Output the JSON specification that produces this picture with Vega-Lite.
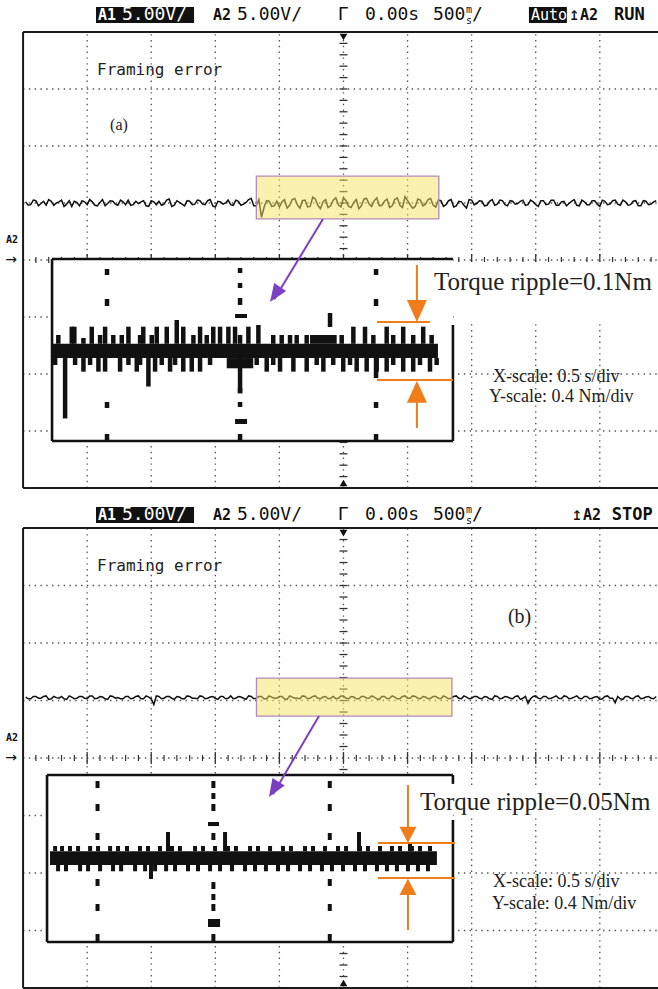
{
"$schema": "https://vega.github.io/schema/vega-lite/v6.json",
"padding": 0,
"spacing": 0,
"bounds": "flush",
"background": "white",
"config": {"view": {"stroke": null}},
"datasets": {
"grid": [
{"t":-2,"t2":-2,"y":-4,"y2":4},{"t":-1.5,"t2":-1.5,"y":-4,"y2":4},{"t":-1,"t2":-1,"y":-4,"y2":4},{"t":-0.5,"t2":-0.5,"y":-4,"y2":4},{"t":0,"t2":0,"y":-4,"y2":4},{"t":0.5,"t2":0.5,"y":-4,"y2":4},{"t":1,"t2":1,"y":-4,"y2":4},{"t":1.5,"t2":1.5,"y":-4,"y2":4},{"t":2,"t2":2,"y":-4,"y2":4},
{"t":-2.5,"t2":2.454,"y":-3,"y2":-3},{"t":-2.5,"t2":2.454,"y":-2,"y2":-2},{"t":-2.5,"t2":2.454,"y":-1,"y2":-1},{"t":-2.5,"t2":2.454,"y":0,"y2":0},{"t":-2.5,"t2":2.454,"y":1,"y2":1},{"t":-2.5,"t2":2.454,"y":2,"y2":2},{"t":-2.5,"t2":2.454,"y":3,"y2":3}],
"frame": [{"t":-2.5,"t2":2.454,"y":4,"y2":4},{"t":-2.5,"t2":-2.5,"y":-4,"y2":4},{"t":-2.5,"t2":2.454,"y":-4,"y2":-4}],
"mx": [{"t":-2.4,"y":0},{"t":-2.3,"y":0},{"t":-2.2,"y":0},{"t":-2.1,"y":0},{"t":-1.9,"y":0},{"t":-1.8,"y":0},{"t":-1.7,"y":0},{"t":-1.6,"y":0},{"t":-1.4,"y":0},{"t":-1.3,"y":0},{"t":-1.2,"y":0},{"t":-1.1,"y":0},{"t":-0.9,"y":0},{"t":-0.8,"y":0},{"t":-0.7,"y":0},{"t":-0.6,"y":0},{"t":-0.4,"y":0},{"t":-0.3,"y":0},{"t":-0.2,"y":0},{"t":-0.1,"y":0},{"t":0.1,"y":0},{"t":0.2,"y":0},{"t":0.3,"y":0},{"t":0.4,"y":0},{"t":0.6,"y":0},{"t":0.7,"y":0},{"t":0.8,"y":0},{"t":0.9,"y":0},{"t":1.1,"y":0},{"t":1.2,"y":0},{"t":1.3,"y":0},{"t":1.4,"y":0},{"t":1.6,"y":0},{"t":1.7,"y":0},{"t":1.8,"y":0},{"t":1.9,"y":0},{"t":2.1,"y":0},{"t":2.2,"y":0},{"t":2.3,"y":0},{"t":2.4,"y":0}],
"mxd": [{"t":-2,"y":0},{"t":-1.5,"y":0},{"t":-1,"y":0},{"t":-0.5,"y":0},{"t":0,"y":0},{"t":0.5,"y":0},{"t":1,"y":0},{"t":1.5,"y":0},{"t":2,"y":0}],
"my": [{"t":0,"y":-3.8},{"t":0,"y":-3.6},{"t":0,"y":-3.4},{"t":0,"y":-3.2},{"t":0,"y":-3},{"t":0,"y":-2.8},{"t":0,"y":-2.6},{"t":0,"y":-2.4},{"t":0,"y":-2.2},{"t":0,"y":-2},{"t":0,"y":-1.8},{"t":0,"y":-1.6},{"t":0,"y":-1.4},{"t":0,"y":-1.2},{"t":0,"y":-1},{"t":0,"y":-0.8},{"t":0,"y":-0.6},{"t":0,"y":-0.4},{"t":0,"y":-0.2},{"t":0,"y":0.2},{"t":0,"y":0.4},{"t":0,"y":0.6},{"t":0,"y":0.8},{"t":0,"y":1},{"t":0,"y":1.2},{"t":0,"y":1.4},{"t":0,"y":1.6},{"t":0,"y":1.8},{"t":0,"y":2},{"t":0,"y":2.2},{"t":0,"y":2.4},{"t":0,"y":2.6},{"t":0,"y":2.8},{"t":0,"y":3},{"t":0,"y":3.2},{"t":0,"y":3.4},{"t":0,"y":3.6},{"t":0,"y":3.8}],
"traceA": [
{"t":-2.48,"y":1.02},{"t":-2.46,"y":0.96},{"t":-2.44,"y":0.97},{"t":-2.42,"y":1.05},{"t":-2.40,"y":1.04},{"t":-2.38,"y":0.95},{"t":-2.36,"y":0.99},{"t":-2.34,"y":1.03},{"t":-2.32,"y":0.96},{"t":-2.30,"y":1.06},
{"t":-2.28,"y":1.03},{"t":-2.26,"y":0.96},{"t":-2.24,"y":1.00},{"t":-2.22,"y":1.02},{"t":-2.20,"y":1.05},{"t":-2.18,"y":0.94},{"t":-2.16,"y":0.98},{"t":-2.14,"y":1.04},{"t":-2.12,"y":0.94},{"t":-2.10,"y":1.03},
{"t":-2.08,"y":1.01},{"t":-2.06,"y":0.95},{"t":-2.04,"y":1.04},{"t":-2.02,"y":1.02},{"t":-2.00,"y":0.97},{"t":-1.98,"y":1.06},{"t":-1.96,"y":1.02},{"t":-1.94,"y":0.96},{"t":-1.92,"y":0.95},{"t":-1.90,"y":1.01},
{"t":-1.88,"y":1.06},{"t":-1.86,"y":0.95},{"t":-1.84,"y":0.99},{"t":-1.82,"y":1.04},{"t":-1.80,"y":1.03},{"t":-1.78,"y":0.98},{"t":-1.76,"y":0.96},{"t":-1.74,"y":1.05},{"t":-1.72,"y":1.02},{"t":-1.70,"y":0.97},
{"t":-1.68,"y":1.05},{"t":-1.66,"y":0.96},{"t":-1.64,"y":0.97},{"t":-1.62,"y":1.03},{"t":-1.60,"y":0.99},{"t":-1.58,"y":1.02},{"t":-1.56,"y":1.04},{"t":-1.54,"y":0.95},{"t":-1.52,"y":0.94},{"t":-1.50,"y":1.04},
{"t":-1.48,"y":1.02},{"t":-1.46,"y":0.97},{"t":-1.44,"y":1.03},{"t":-1.42,"y":0.96},{"t":-1.40,"y":0.98},{"t":-1.38,"y":1.05},{"t":-1.36,"y":1.07},{"t":-1.34,"y":0.94},{"t":-1.32,"y":0.96},{"t":-1.30,"y":1.04},
{"t":-1.28,"y":1.01},{"t":-1.26,"y":0.98},{"t":-1.24,"y":0.95},{"t":-1.22,"y":1.04},{"t":-1.20,"y":1.03},{"t":-1.18,"y":0.97},{"t":-1.16,"y":0.98},{"t":-1.14,"y":1.05},{"t":-1.12,"y":1.04},{"t":-1.10,"y":0.98},
{"t":-1.08,"y":0.97},{"t":-1.06,"y":1.04},{"t":-1.04,"y":1.06},{"t":-1.02,"y":0.95},{"t":-1.00,"y":0.93},{"t":-0.98,"y":1.03},{"t":-0.96,"y":1.02},{"t":-0.94,"y":0.98},{"t":-0.92,"y":1.00},{"t":-0.90,"y":1.05},
{"t":-0.88,"y":0.97},{"t":-0.86,"y":0.96},{"t":-0.84,"y":1.05},{"t":-0.82,"y":1.03},{"t":-0.80,"y":0.96},{"t":-0.78,"y":0.98},{"t":-0.76,"y":1.01},{"t":-0.74,"y":1.06},{"t":-0.72,"y":1.08},{"t":-0.70,"y":0.95},
{"t":-0.68,"y":0.95},{"t":-0.66,"y":1.06},{"t":-0.64,"y":0.75},{"t":-0.62,"y":0.92},{"t":-0.60,"y":1.04},{"t":-0.58,"y":1.03},{"t":-0.56,"y":0.94},{"t":-0.54,"y":0.95},{"t":-0.52,"y":1.03},{"t":-0.50,"y":0.93},
{"t":-0.48,"y":1.02},{"t":-0.46,"y":1.06},{"t":-0.44,"y":0.91},{"t":-0.42,"y":0.96},{"t":-0.40,"y":1.06},{"t":-0.38,"y":1.08},{"t":-0.36,"y":0.97},{"t":-0.34,"y":0.91},{"t":-0.32,"y":1.04},{"t":-0.30,"y":1.05},
{"t":-0.28,"y":0.93},{"t":-0.26,"y":0.94},{"t":-0.24,"y":1.10},{"t":-0.22,"y":1.07},{"t":-0.20,"y":0.96},{"t":-0.18,"y":0.90},{"t":-0.16,"y":1.02},{"t":-0.14,"y":1.06},{"t":-0.12,"y":0.92},{"t":-0.10,"y":0.95},
{"t":-0.08,"y":1.05},{"t":-0.06,"y":1.09},{"t":-0.04,"y":0.97},{"t":-0.02,"y":0.93},{"t":0.00,"y":1.09},{"t":0.02,"y":1.04},{"t":0.04,"y":0.94},{"t":0.06,"y":0.92},{"t":0.08,"y":1.01},{"t":0.10,"y":1.06},
{"t":0.12,"y":0.90},{"t":0.14,"y":0.95},{"t":0.16,"y":1.07},{"t":0.18,"y":1.08},{"t":0.20,"y":0.98},{"t":0.22,"y":0.94},{"t":0.24,"y":1.04},{"t":0.26,"y":1.09},{"t":0.28,"y":0.95},{"t":0.30,"y":0.96},
{"t":0.32,"y":1.03},{"t":0.34,"y":1.07},{"t":0.36,"y":0.92},{"t":0.38,"y":0.95},{"t":0.40,"y":1.06},{"t":0.42,"y":1.09},{"t":0.44,"y":0.96},{"t":0.46,"y":0.92},{"t":0.48,"y":1.11},{"t":0.50,"y":1.04},
{"t":0.52,"y":0.97},{"t":0.54,"y":0.91},{"t":0.56,"y":0.94},{"t":0.58,"y":1.07},{"t":0.60,"y":1.05},{"t":0.62,"y":0.95},{"t":0.64,"y":0.98},{"t":0.66,"y":1.06},{"t":0.68,"y":1.08},{"t":0.70,"y":0.96},
{"t":0.72,"y":0.93},{"t":0.74,"y":1.05},{"t":0.76,"y":1.04},{"t":0.78,"y":0.94},{"t":0.80,"y":0.97},{"t":0.82,"y":1.04},{"t":0.84,"y":1.06},{"t":0.86,"y":0.93},{"t":0.88,"y":0.95},{"t":0.90,"y":1.03},
{"t":0.92,"y":1.02},{"t":0.94,"y":0.96},{"t":0.96,"y":0.91},{"t":0.98,"y":1.06},{"t":1.00,"y":1.05},{"t":1.02,"y":0.97},{"t":1.04,"y":0.99},{"t":1.06,"y":1.04},{"t":1.08,"y":1.03},{"t":1.10,"y":0.95},
{"t":1.12,"y":0.96},{"t":1.14,"y":1.03},{"t":1.16,"y":1.06},{"t":1.18,"y":0.96},{"t":1.20,"y":0.98},{"t":1.22,"y":1.05},{"t":1.24,"y":1.04},{"t":1.26,"y":0.97},{"t":1.28,"y":0.95},{"t":1.30,"y":1.04},
{"t":1.32,"y":1.03},{"t":1.34,"y":0.98},{"t":1.36,"y":0.99},{"t":1.38,"y":1.03},{"t":1.40,"y":1.05},{"t":1.42,"y":0.96},{"t":1.44,"y":0.97},{"t":1.46,"y":1.05},{"t":1.48,"y":1.02},{"t":1.50,"y":0.97},
{"t":1.52,"y":0.94},{"t":1.54,"y":1.04},{"t":1.56,"y":1.04},{"t":1.58,"y":0.97},{"t":1.60,"y":0.98},{"t":1.62,"y":1.05},{"t":1.64,"y":1.05},{"t":1.66,"y":0.96},{"t":1.68,"y":0.96},{"t":1.70,"y":1.02},
{"t":1.72,"y":1.03},{"t":1.74,"y":0.95},{"t":1.76,"y":0.99},{"t":1.78,"y":1.03},{"t":1.80,"y":1.06},{"t":1.82,"y":0.96},{"t":1.84,"y":0.95},{"t":1.86,"y":1.05},{"t":1.88,"y":1.02},{"t":1.90,"y":0.97},
{"t":1.92,"y":0.97},{"t":1.94,"y":1.04},{"t":1.96,"y":1.04},{"t":1.98,"y":0.98},{"t":2.00,"y":0.94},{"t":2.02,"y":1.05},{"t":2.04,"y":1.03},{"t":2.06,"y":0.97},{"t":2.08,"y":0.98},{"t":2.10,"y":1.04},
{"t":2.12,"y":1.05},{"t":2.14,"y":0.98},{"t":2.16,"y":0.96},{"t":2.18,"y":1.05},{"t":2.20,"y":1.02},{"t":2.22,"y":0.96},{"t":2.24,"y":0.97},{"t":2.26,"y":1.03},{"t":2.28,"y":1.04},{"t":2.30,"y":0.95},
{"t":2.32,"y":0.95},{"t":2.34,"y":1.04},{"t":2.36,"y":1.03},{"t":2.38,"y":0.97},{"t":2.40,"y":0.98},{"t":2.42,"y":1.02},{"t":2.44,"y":1.04}],
"traceB": [
{"t":-2.48,"y":1.06},{"t":-2.46,"y":1.03},{"t":-2.44,"y":1.03},{"t":-2.42,"y":1.07},{"t":-2.40,"y":1.07},{"t":-2.38,"y":1.04},{"t":-2.36,"y":1.04},{"t":-2.34,"y":1.07},{"t":-2.32,"y":1.08},{"t":-2.30,"y":1.02},
{"t":-2.28,"y":1.03},{"t":-2.26,"y":1.07},{"t":-2.24,"y":1.05},{"t":-2.22,"y":1.04},{"t":-2.20,"y":1.07},{"t":-2.18,"y":1.03},{"t":-2.16,"y":1.02},{"t":-2.14,"y":1.08},{"t":-2.12,"y":1.06},{"t":-2.10,"y":1.03},
{"t":-2.08,"y":1.04},{"t":-2.06,"y":1.07},{"t":-2.04,"y":1.07},{"t":-2.02,"y":1.04},{"t":-2.00,"y":1.03},{"t":-1.98,"y":1.08},{"t":-1.96,"y":1.08},{"t":-1.94,"y":1.03},{"t":-1.92,"y":1.04},{"t":-1.90,"y":1.07},
{"t":-1.88,"y":1.06},{"t":-1.86,"y":1.03},{"t":-1.84,"y":1.02},{"t":-1.82,"y":1.08},{"t":-1.80,"y":1.07},{"t":-1.78,"y":1.04},{"t":-1.76,"y":1.05},{"t":-1.74,"y":1.03},{"t":-1.72,"y":1.03},{"t":-1.70,"y":1.07},
{"t":-1.68,"y":1.07},{"t":-1.66,"y":1.03},{"t":-1.64,"y":1.04},{"t":-1.62,"y":1.07},{"t":-1.60,"y":1.08},{"t":-1.58,"y":1.03},{"t":-1.56,"y":1.03},{"t":-1.54,"y":1.08},{"t":-1.52,"y":1.06},{"t":-1.50,"y":1.03},
{"t":-1.48,"y":0.93},{"t":-1.46,"y":1.08},{"t":-1.44,"y":1.07},{"t":-1.42,"y":1.03},{"t":-1.40,"y":1.04},{"t":-1.38,"y":1.07},{"t":-1.36,"y":1.07},{"t":-1.34,"y":1.04},{"t":-1.32,"y":1.02},{"t":-1.30,"y":1.07},
{"t":-1.28,"y":1.06},{"t":-1.26,"y":1.03},{"t":-1.24,"y":1.03},{"t":-1.22,"y":1.08},{"t":-1.20,"y":1.07},{"t":-1.18,"y":1.04},{"t":-1.16,"y":1.04},{"t":-1.14,"y":1.03},{"t":-1.12,"y":1.08},{"t":-1.10,"y":1.07},
{"t":-1.08,"y":1.03},{"t":-1.06,"y":1.04},{"t":-1.04,"y":1.06},{"t":-1.02,"y":1.07},{"t":-1.00,"y":1.04},{"t":-0.98,"y":1.02},{"t":-0.96,"y":1.07},{"t":-0.94,"y":1.07},{"t":-0.92,"y":1.03},{"t":-0.90,"y":1.04},
{"t":-0.88,"y":1.08},{"t":-0.86,"y":1.03},{"t":-0.84,"y":1.04},{"t":-0.82,"y":1.07},{"t":-0.80,"y":1.06},{"t":-0.78,"y":1.04},{"t":-0.76,"y":1.02},{"t":-0.74,"y":1.08},{"t":-0.72,"y":1.07},{"t":-0.70,"y":1.03},
{"t":-0.68,"y":1.04},{"t":-0.66,"y":1.07},{"t":-0.64,"y":1.07},{"t":-0.62,"y":1.03},{"t":-0.60,"y":1.03},{"t":-0.58,"y":1.08},{"t":-0.56,"y":1.06},{"t":-0.54,"y":1.04},{"t":-0.52,"y":1.04},{"t":-0.50,"y":1.07},
{"t":-0.48,"y":1.07},{"t":-0.46,"y":1.03},{"t":-0.44,"y":1.02},{"t":-0.42,"y":1.08},{"t":-0.40,"y":1.06},{"t":-0.38,"y":1.04},{"t":-0.36,"y":1.04},{"t":-0.34,"y":1.03},{"t":-0.32,"y":1.08},{"t":-0.30,"y":1.07},
{"t":-0.28,"y":1.03},{"t":-0.26,"y":1.04},{"t":-0.24,"y":1.07},{"t":-0.22,"y":1.08},{"t":-0.20,"y":1.04},{"t":-0.18,"y":1.03},{"t":-0.16,"y":1.06},{"t":-0.14,"y":1.07},{"t":-0.12,"y":1.03},{"t":-0.10,"y":1.04},
{"t":-0.08,"y":1.07},{"t":-0.06,"y":1.03},{"t":-0.04,"y":1.04},{"t":-0.02,"y":1.08},{"t":0.00,"y":1.08},{"t":0.02,"y":1.04},{"t":0.04,"y":1.03},{"t":0.06,"y":1.07},{"t":0.08,"y":1.06},{"t":0.10,"y":1.03},
{"t":0.12,"y":1.03},{"t":0.14,"y":1.07},{"t":0.16,"y":1.07},{"t":0.18,"y":1.04},{"t":0.20,"y":1.04},{"t":0.22,"y":1.08},{"t":0.24,"y":1.06},{"t":0.26,"y":1.03},{"t":0.28,"y":1.02},{"t":0.30,"y":1.07},
{"t":0.32,"y":1.07},{"t":0.34,"y":1.03},{"t":0.36,"y":1.04},{"t":0.38,"y":1.08},{"t":0.40,"y":1.06},{"t":0.42,"y":1.03},{"t":0.44,"y":1.03},{"t":0.46,"y":1.07},{"t":0.48,"y":1.08},{"t":0.50,"y":1.04},
{"t":0.52,"y":1.04},{"t":0.54,"y":1.08},{"t":0.56,"y":1.07},{"t":0.58,"y":1.04},{"t":0.60,"y":1.03},{"t":0.62,"y":1.07},{"t":0.64,"y":1.06},{"t":0.66,"y":1.03},{"t":0.68,"y":1.04},{"t":0.70,"y":1.07},
{"t":0.72,"y":1.07},{"t":0.74,"y":1.04},{"t":0.76,"y":1.03},{"t":0.78,"y":1.08},{"t":0.80,"y":1.06},{"t":0.82,"y":1.03},{"t":0.84,"y":1.04},{"t":0.86,"y":1.07},{"t":0.88,"y":1.08},{"t":0.90,"y":1.04},
{"t":0.92,"y":1.03},{"t":0.94,"y":1.08},{"t":0.96,"y":1.06},{"t":0.98,"y":1.03},{"t":1.00,"y":1.04},{"t":1.02,"y":1.07},{"t":1.04,"y":1.07},{"t":1.06,"y":1.04},{"t":1.08,"y":1.03},{"t":1.10,"y":1.07},
{"t":1.12,"y":1.06},{"t":1.14,"y":1.03},{"t":1.16,"y":1.02},{"t":1.18,"y":1.08},{"t":1.20,"y":1.07},{"t":1.22,"y":1.03},{"t":1.24,"y":1.04},{"t":1.26,"y":1.07},{"t":1.28,"y":1.06},{"t":1.30,"y":1.04},
{"t":1.32,"y":1.03},{"t":1.34,"y":1.07},{"t":1.36,"y":1.08},{"t":1.38,"y":1.02},{"t":1.40,"y":1.04},{"t":1.42,"y":1.07},{"t":1.44,"y":0.95},{"t":1.46,"y":1.03},{"t":1.48,"y":1.07},{"t":1.50,"y":1.08},
{"t":1.52,"y":1.04},{"t":1.54,"y":1.03},{"t":1.56,"y":1.07},{"t":1.58,"y":1.07},{"t":1.60,"y":1.03},{"t":1.62,"y":1.04},{"t":1.64,"y":1.06},{"t":1.66,"y":1.08},{"t":1.68,"y":1.04},{"t":1.70,"y":1.03},
{"t":1.72,"y":1.08},{"t":1.74,"y":1.07},{"t":1.76,"y":1.03},{"t":1.78,"y":1.04},{"t":1.80,"y":1.06},{"t":1.82,"y":1.08},{"t":1.84,"y":1.04},{"t":1.86,"y":1.03},{"t":1.88,"y":1.07},{"t":1.90,"y":1.07},
{"t":1.92,"y":1.03},{"t":1.94,"y":1.04},{"t":1.96,"y":1.06},{"t":1.98,"y":1.07},{"t":2.00,"y":1.02},{"t":2.02,"y":1.03},{"t":2.04,"y":1.07},{"t":2.06,"y":1.08},{"t":2.08,"y":1.04},{"t":2.10,"y":1.04},
{"t":2.12,"y":0.96},{"t":2.14,"y":1.07},{"t":2.16,"y":1.03},{"t":2.18,"y":1.02},{"t":2.20,"y":1.07},{"t":2.22,"y":1.07},{"t":2.24,"y":1.04},{"t":2.26,"y":1.03},{"t":2.28,"y":1.07},{"t":2.30,"y":1.08},
{"t":2.32,"y":1.03},{"t":2.34,"y":1.04},{"t":2.36,"y":1.06},{"t":2.38,"y":1.07},{"t":2.40,"y":1.04},{"t":2.42,"y":1.03},{"t":2.44,"y":1.07}],
"insetAv": [
{"t":-2.225,"y":-1.47,"y2":-1.316},{"t":-2.12,"y":-1.47,"y2":-1.17},{"t":-2.1,"y":-1.47,"y2":-1.17},{"t":-2.029,"y":-1.47,"y2":-1.368},{"t":-1.964,"y":-1.47,"y2":-1.17},{"t":-1.899,"y":-1.47,"y2":-1.316},{"t":-1.86,"y":-1.47,"y2":-1.17},{"t":-1.796,"y":-1.47,"y2":-1.316},{"t":-1.73,"y":-1.47,"y2":-1.316},{"t":-1.678,"y":-1.47,"y2":-1.17},{"t":-1.587,"y":-1.47,"y2":-1.316},{"t":-1.562,"y":-1.47,"y2":-1.17},{"t":-1.496,"y":-1.47,"y2":-1.316},{"t":-1.457,"y":-1.47,"y2":-1.17},{"t":-1.379,"y":-1.47,"y2":-1.17},{"t":-1.301,"y":-1.47,"y2":-1.053},{"t":-1.25,"y":-1.47,"y2":-1.17},{"t":-1.171,"y":-1.47,"y2":-1.316},{"t":-1.119,"y":-1.47,"y2":-1.17},{"t":-1.067,"y":-1.47,"y2":-1.316},{"t":-1.016,"y":-1.47,"y2":-1.17},{"t":-0.963,"y":-1.47,"y2":-1.17},{"t":-0.898,"y":-1.47,"y2":-1.17},{"t":-0.846,"y":-1.47,"y2":-1.17},{"t":-0.807,"y":-1.47,"y2":-1.316},{"t":-0.742,"y":-1.47,"y2":-1.17},{"t":-0.664,"y":-1.47,"y2":-1.14},{"t":-0.548,"y":-1.47,"y2":-1.316},{"t":-0.482,"y":-1.47,"y2":-1.316},{"t":-0.417,"y":-1.47,"y2":-1.316},{"t":-0.365,"y":-1.47,"y2":-1.316},{"t":-0.287,"y":-1.47,"y2":-1.316},{"t":-0.014,"y":-1.47,"y2":-1.316},{"t":0.077,"y":-1.47,"y2":-1.17},{"t":0.168,"y":-1.47,"y2":-1.17},{"t":0.233,"y":-1.47,"y2":-1.316},{"t":0.337,"y":-1.47,"y2":-1.17},{"t":0.388,"y":-1.47,"y2":-1.316},{"t":0.466,"y":-1.47,"y2":-1.17},{"t":0.544,"y":-1.47,"y2":-1.316},{"t":0.622,"y":-1.47,"y2":-1.17},{"t":0.688,"y":-1.47,"y2":-1.316},{"t":-0.105,"y":-0.93,"y2":-1.175},
{"t":-2.25,"y":-1.72,"y2":-1.842},{"t":-2.172,"y":-1.72,"y2":-2.78},{"t":-2.094,"y":-1.72,"y2":-1.842},{"t":-2.029,"y":-1.72,"y2":-1.959},{"t":-1.977,"y":-1.72,"y2":-1.842},{"t":-1.912,"y":-1.72,"y2":-1.959},{"t":-1.86,"y":-1.72,"y2":-1.959},{"t":-1.743,"y":-1.72,"y2":-1.959},{"t":-1.678,"y":-1.72,"y2":-1.842},{"t":-1.613,"y":-1.72,"y2":-1.959},{"t":-1.587,"y":-1.72,"y2":-1.842},{"t":-1.522,"y":-1.72,"y2":-2.22},{"t":-1.47,"y":-1.72,"y2":-1.959},{"t":-1.418,"y":-1.72,"y2":-1.842},{"t":-1.353,"y":-1.72,"y2":-1.959},{"t":-1.314,"y":-1.72,"y2":-1.842},{"t":-1.25,"y":-1.72,"y2":-1.959},{"t":-1.184,"y":-1.72,"y2":-1.959},{"t":-1.119,"y":-1.72,"y2":-1.959},{"t":-1.041,"y":-1.72,"y2":-1.842},{"t":-0.807,"y":-1.72,"y2":-2.34},{"t":-0.677,"y":-1.72,"y2":-1.842},{"t":-0.599,"y":-1.72,"y2":-1.959},{"t":-0.548,"y":-1.72,"y2":-1.842},{"t":-0.495,"y":-1.72,"y2":-1.959},{"t":-0.391,"y":-1.72,"y2":-1.959},{"t":-0.287,"y":-1.72,"y2":-1.959},{"t":-0.209,"y":-1.72,"y2":-1.842},{"t":-0.157,"y":-1.72,"y2":-1.959},{"t":-0.08,"y":-1.72,"y2":-1.842},{"t":-0.002,"y":-1.72,"y2":-1.959},{"t":0.051,"y":-1.72,"y2":-1.842},{"t":0.103,"y":-1.72,"y2":-1.959},{"t":0.181,"y":-1.72,"y2":-1.959},{"t":0.259,"y":-1.72,"y2":-1.959},{"t":0.337,"y":-1.72,"y2":-1.959},{"t":0.388,"y":-1.72,"y2":-1.842},{"t":0.466,"y":-1.72,"y2":-1.959},{"t":0.544,"y":-1.72,"y2":-1.959},{"t":0.597,"y":-1.72,"y2":-1.842},{"t":0.675,"y":-1.72,"y2":-1.959},{"t":0.727,"y":-1.72,"y2":-1.842},
{"t":-1.845,"y":-0.158,"y2":-0.263},{"t":-1.845,"y":-0.684,"y2":-0.807},{"t":-1.845,"y":-2.491,"y2":-2.596},{"t":-1.845,"y":-3.053,"y2":-3.175},
{"t":-0.807,"y":-0.14,"y2":-0.228},{"t":-0.807,"y":-0.404,"y2":-0.491},{"t":-0.807,"y":-0.667,"y2":-0.789},{"t":-0.807,"y":-2.246,"y2":-2.333},{"t":-0.807,"y":-2.491,"y2":-2.579},{"t":-0.807,"y":-3.053,"y2":-3.175},
{"t":0.254,"y":-0.158,"y2":-0.263},{"t":0.254,"y":-0.684,"y2":-0.807},{"t":0.254,"y":-1.72,"y2":-2.07},{"t":0.254,"y":-2.491,"y2":-2.596},{"t":0.254,"y":-3.053,"y2":-3.175}],
"insetBv": [
{"t":-2.25,"y":-1.62,"y2":-1.53},{"t":-2.196,"y":-1.62,"y2":-1.53},{"t":-2.134,"y":-1.62,"y2":-1.53},{"t":-2.071,"y":-1.62,"y2":-1.53},{"t":-1.977,"y":-1.62,"y2":-1.53},{"t":-1.915,"y":-1.62,"y2":-1.53},{"t":-1.821,"y":-1.62,"y2":-1.53},{"t":-1.759,"y":-1.62,"y2":-1.53},{"t":-1.689,"y":-1.62,"y2":-1.53},{"t":-1.588,"y":-1.62,"y2":-1.53},{"t":-1.525,"y":-1.62,"y2":-1.53},{"t":-1.432,"y":-1.62,"y2":-1.53},{"t":-1.338,"y":-1.62,"y2":-1.53},{"t":-1.276,"y":-1.62,"y2":-1.53},{"t":-1.158,"y":-1.62,"y2":-1.53},{"t":-1.096,"y":-1.62,"y2":-1.53},{"t":-1.002,"y":-1.62,"y2":-1.53},{"t":-0.901,"y":-1.62,"y2":-1.53},{"t":-0.839,"y":-1.62,"y2":-1.53},{"t":-0.729,"y":-1.62,"y2":-1.53},{"t":-0.667,"y":-1.62,"y2":-1.53},{"t":-0.573,"y":-1.62,"y2":-1.53},{"t":-0.472,"y":-1.62,"y2":-1.53},{"t":-0.41,"y":-1.62,"y2":-1.53},{"t":-0.3,"y":-1.62,"y2":-1.53},{"t":-0.238,"y":-1.62,"y2":-1.53},{"t":-0.144,"y":-1.62,"y2":-1.53},{"t":-0.043,"y":-1.62,"y2":-1.53},{"t":0.02,"y":-1.62,"y2":-1.53},{"t":0.129,"y":-1.62,"y2":-1.53},{"t":0.191,"y":-1.62,"y2":-1.53},{"t":0.285,"y":-1.62,"y2":-1.53},{"t":0.378,"y":-1.62,"y2":-1.53},{"t":0.441,"y":-1.62,"y2":-1.53},{"t":0.534,"y":-1.62,"y2":-1.53},{"t":0.597,"y":-1.62,"y2":-1.53},{"t":0.675,"y":-1.62,"y2":-1.53},
{"t":-2.227,"y":-1.86,"y2":-1.97},{"t":-2.165,"y":-1.86,"y2":-1.97},{"t":-2.055,"y":-1.86,"y2":-1.97},{"t":-1.993,"y":-1.86,"y2":-1.97},{"t":-1.899,"y":-1.86,"y2":-1.97},{"t":-1.798,"y":-1.86,"y2":-1.97},{"t":-1.735,"y":-1.86,"y2":-1.97},{"t":-1.626,"y":-1.86,"y2":-1.97},{"t":-1.548,"y":-1.86,"y2":-1.97},{"t":-1.47,"y":-1.86,"y2":-1.97},{"t":-1.384,"y":-1.86,"y2":-1.97},{"t":-1.314,"y":-1.86,"y2":-1.97},{"t":-1.213,"y":-1.86,"y2":-1.97},{"t":-1.135,"y":-1.86,"y2":-1.97},{"t":-1.041,"y":-1.86,"y2":-1.97},{"t":-0.963,"y":-1.86,"y2":-1.97},{"t":-0.87,"y":-1.86,"y2":-1.97},{"t":-0.768,"y":-1.86,"y2":-1.97},{"t":-0.69,"y":-1.86,"y2":-1.97},{"t":-0.605,"y":-1.86,"y2":-1.97},{"t":-0.511,"y":-1.86,"y2":-1.97},{"t":-0.433,"y":-1.86,"y2":-1.97},{"t":-0.339,"y":-1.86,"y2":-1.97},{"t":-0.261,"y":-1.86,"y2":-1.97},{"t":-0.168,"y":-1.86,"y2":-1.97},{"t":-0.09,"y":-1.86,"y2":-1.97},{"t":-0.004,"y":-1.86,"y2":-1.97},{"t":0.09,"y":-1.86,"y2":-1.97},{"t":0.168,"y":-1.86,"y2":-1.97},{"t":0.261,"y":-1.86,"y2":-1.97},{"t":0.339,"y":-1.86,"y2":-1.97},{"t":0.417,"y":-1.86,"y2":-1.97},{"t":0.503,"y":-1.86,"y2":-1.97},{"t":0.581,"y":-1.86,"y2":-1.97},{"t":0.659,"y":-1.86,"y2":-1.97},
{"t":-1.369,"y":-1.62,"y2":-1.287},{"t":-0.924,"y":-1.62,"y2":-1.287},{"t":0.121,"y":-1.62,"y2":-1.287},{"t":0.519,"y":-1.62,"y2":-1.46},{"t":-1.502,"y":-1.86,"y2":-2.104},
{"t":-1.919,"y":-0.4,"y2":-0.522},{"t":-1.919,"y":-0.8,"y2":-0.922},{"t":-1.919,"y":-1.304,"y2":-1.426},{"t":-1.919,"y":-2.104,"y2":-2.226},{"t":-1.919,"y":-2.539,"y2":-2.661},{"t":-1.919,"y":-3.061,"y2":-3.183},
{"t":-0.107,"y":-0.4,"y2":-0.522},{"t":-0.107,"y":-0.8,"y2":-0.922},{"t":-0.107,"y":-1.304,"y2":-1.426},{"t":-0.107,"y":-2.104,"y2":-2.226},{"t":-0.107,"y":-2.539,"y2":-2.661},{"t":-0.107,"y":-3.061,"y2":-3.183},
{"t":-1.015,"y":-0.4,"y2":-0.522},{"t":-1.015,"y":-0.609,"y2":-0.713},{"t":-1.015,"y":-0.8,"y2":-0.922},{"t":-1.015,"y":-1.304,"y2":-1.426},{"t":-1.015,"y":-2.157,"y2":-2.278},{"t":-1.015,"y":-2.365,"y2":-2.47},{"t":-1.015,"y":-2.539,"y2":-2.661},{"t":-1.015,"y":-3.061,"y2":-3.183}]
},
"vconcat": [
{
"width": 658, "height": 488,
"encoding": {
 "x": {"field": "t", "type": "quantitative", "scale": {"domain": [-2.68, 2.454], "nice": false, "zero": false}, "axis": null},
 "y": {"field": "y", "type": "quantitative", "scale": {"domain": [-4, 4.561], "nice": false, "zero": false}, "axis": null}
},
"layer": [
 {"data": {"name": "grid"}, "mark": {"type": "rule", "color": "#505050", "strokeWidth": 1.3, "strokeDash": [1.4, 4.4]}, "encoding": {"x2": {"field": "t2"}, "y2": {"field": "y2"}}},
 {"data": {"name": "frame"}, "mark": {"type": "rule", "color": "#1a1a1a", "strokeWidth": 2}, "encoding": {"x2": {"field": "t2"}, "y2": {"field": "y2"}}},
 {"data": {"name": "mx"}, "mark": {"type": "tick", "orient": "vertical", "size": 6, "thickness": 1.2, "color": "#333", "opacity": 1}},
 {"data": {"name": "mxd"}, "mark": {"type": "tick", "orient": "vertical", "size": 12, "thickness": 1.3, "color": "#333", "opacity": 1}},
 {"data": {"name": "my"}, "mark": {"type": "tick", "orient": "horizontal", "size": 8, "thickness": 1.3, "color": "#333", "opacity": 1}},
 {"data": {"values": [{"t": 0, "y": 3.912}]}, "mark": {"type": "point", "shape": "triangle-down", "size": 60, "filled": true, "color": "#111", "opacity": 1}},
 {"data": {"values": [{"t": 0, "y": -3.912}]}, "mark": {"type": "point", "shape": "triangle-up", "size": 60, "filled": true, "color": "#111", "opacity": 1}},
 {"data": {"name": "traceA"}, "mark": {"type": "line", "color": "#111", "strokeWidth": 1.5}, "encoding": {}},
 {"data": {"values": [{"t": -0.68, "t2": 0.744, "y": 1.47, "y2": 0.72}]}, "mark": {"type": "rect", "fill": "#f5e35e", "fillOpacity": 0.5, "stroke": "#b48ab9", "strokeWidth": 1.3}, "encoding": {"x2": {"field": "t2"}, "y2": {"field": "y2"}}},
 {"data": {"values": [{"t": -2.274, "t2": 0.854, "y": 0.018, "y2": -3.175}]}, "mark": {"type": "rect", "color": "white"}, "encoding": {"x2": {"field": "t2"}, "y2": {"field": "y2"}}},
 {"data": {"values": [{"t": 0.87, "t2": 2.46, "y": -0.035, "y2": -1.09}]}, "mark": {"type": "rect", "color": "white"}, "encoding": {"x2": {"field": "t2"}, "y2": {"field": "y2"}}},
 {"data": {"values": [{"t": -2.274, "t2": 0.854, "y": 0.018, "y2": 0.018}, {"t": -2.274, "t2": -2.274, "y": 0.018, "y2": -3.175}, {"t": -2.274, "t2": 0.854, "y": -3.175, "y2": -3.175}, {"t": 0.854, "t2": 0.854, "y": -1.14, "y2": -3.175}]}, "mark": {"type": "rule", "color": "#111", "strokeWidth": 2.6}, "encoding": {"x2": {"field": "t2"}, "y2": {"field": "y2"}}},
 {"data": {"values": [{"t": -2.274, "t2": 0.737, "y": -1.47, "y2": -1.72}, {"t": -0.261, "t2": -0.053, "y": -1.316, "y2": -1.47}, {"t": -0.911, "t2": -0.704, "y": -1.72, "y2": -1.9}, {"t": -0.846, "t2": -0.753, "y": -0.947, "y2": -1.018}, {"t": -0.846, "t2": -0.753, "y": -2.789, "y2": -2.877}]}, "mark": {"type": "rect", "color": "#111"}, "encoding": {"x2": {"field": "t2"}, "y2": {"field": "y2"}}},
 {"data": {"name": "insetAv"}, "mark": {"type": "rule", "color": "#111", "strokeWidth": 4.5}, "encoding": {"y2": {"field": "y2"}}},
 {"data": {"values": [{"t": -0.16, "t2": -0.54, "y": 0.72, "y2": -0.69}]}, "mark": {"type": "rule", "color": "#7b3fc4", "strokeWidth": 2}, "encoding": {"x2": {"field": "t2"}, "y2": {"field": "y2"}}},
 {"data": {"values": [{"t": -0.573, "y": -0.737}]}, "mark": {"type": "point", "shape": "M0,0L-0.8,2L0.8,2Z", "size": 324, "angle": 214, "filled": true, "color": "#7b3fc4", "opacity": 1}},
 {"data": {"values": [{"t": 0.573, "t2": 0.573, "y": -0.088, "y2": -1.0}, {"t": 0.261, "t2": 0.675, "y": -1.088, "y2": -1.088}, {"t": 0.261, "t2": 0.854, "y": -2.105, "y2": -2.105}, {"t": 0.573, "t2": 0.573, "y": -2.25, "y2": -2.947}]}, "mark": {"type": "rule", "color": "#f07d1a", "strokeWidth": 2}, "encoding": {"x2": {"field": "t2"}, "y2": {"field": "y2"}}},
 {"data": {"values": [{"t": 0.573, "y": -1.088}]}, "mark": {"type": "point", "shape": "M0,0L-1,-2.2L1,-2.2Z", "size": 400, "filled": true, "color": "#f07d1a", "opacity": 1}},
 {"data": {"values": [{"t": 0.573, "y": -2.12}]}, "mark": {"type": "point", "shape": "M0,0L-1,2.2L1,2.2Z", "size": 400, "filled": true, "color": "#f07d1a", "opacity": 1}},
 {"data": {"values": [{"t": -1.931, "t2": -1.166, "y": 4.439, "y2": 4.158}, {"t": 1.447, "t2": 1.743, "y": 4.439, "y2": 4.158}]}, "mark": {"type": "rect", "color": "#111"}, "encoding": {"x2": {"field": "t2"}, "y2": {"field": "y2"}}},
 {"data": {"values": [{"t": -1.915, "y": 4.3, "s": "A1"}]}, "mark": {"type": "text", "align": "left", "baseline": "middle", "font": "DejaVu Sans Mono", "fontWeight": "bold", "fontSize": 15, "color": "white"}, "encoding": {"text": {"field": "s"}}},
 {"data": {"values": [{"t": -1.728, "y": 4.3, "s": "5.00V/"}]}, "mark": {"type": "text", "align": "left", "baseline": "middle", "font": "DejaVu Sans Mono", "fontSize": 18, "color": "white"}, "encoding": {"text": {"field": "s"}}},
 {"data": {"values": [{"t": 1.463, "y": 4.3, "s": "Auto"}]}, "mark": {"type": "text", "align": "left", "baseline": "middle", "font": "DejaVu Sans Mono", "fontSize": 15, "color": "white"}, "encoding": {"text": {"field": "s"}}},
 {"data": {"values": [{"t": -0.831, "y": 4.3, "s": "5.00V/"}, {"t": -0.045, "y": 4.3, "s": "Γ"}, {"t": 0.168, "y": 4.3, "s": "0.00s"}, {"t": 0.698, "y": 4.3, "s": "500"}, {"t": 1.002, "y": 4.3, "s": "/"}, {"t": 1.759, "y": 4.3, "s": "↥"}]}, "mark": {"type": "text", "align": "left", "baseline": "middle", "font": "DejaVu Sans Mono", "fontSize": 18, "color": "#111"}, "encoding": {"text": {"field": "s"}}},
 {"data": {"values": [{"t": -1.018, "y": 4.3, "s": "A2"}, {"t": 1.845, "y": 4.3, "s": "A2"}]}, "mark": {"type": "text", "align": "left", "baseline": "middle", "font": "DejaVu Sans Mono", "fontWeight": "bold", "fontSize": 15, "color": "#111"}, "encoding": {"text": {"field": "s"}}},
 {"data": {"values": [{"t": 2.11, "y": 4.3, "s": "RUN"}]}, "mark": {"type": "text", "align": "left", "baseline": "middle", "font": "DejaVu Sans Mono", "fontWeight": "bold", "fontSize": 17, "color": "#111"}, "encoding": {"text": {"field": "s"}}},
 {"data": {"values": [{"t": 0.955, "y": 4.386, "s": "m"}, {"t": 0.955, "y": 4.193, "s": "s"}]}, "mark": {"type": "text", "align": "left", "baseline": "middle", "font": "DejaVu Sans Mono", "fontSize": 10, "color": "#111"}, "encoding": {"text": {"field": "s"}}},
 {"data": {"values": [{"t": -2.586, "y": 0.35, "s": "A2"}]}, "mark": {"type": "text", "align": "center", "baseline": "middle", "font": "DejaVu Sans Mono", "fontWeight": "bold", "fontSize": 10, "color": "#111"}, "encoding": {"text": {"field": "s"}}},
 {"data": {"values": [{"t": -2.64, "y": 0.0, "s": "→"}]}, "mark": {"type": "text", "align": "left", "baseline": "middle", "font": "DejaVu Sans", "fontSize": 14, "color": "#111"}, "encoding": {"text": {"field": "s"}}},
 {"data": {"values": [{"t": -1.923, "y": 3.333, "s": "Framing error"}]}, "mark": {"type": "text", "align": "left", "baseline": "middle", "font": "DejaVu Sans Mono", "fontSize": 16, "color": "#222"}, "encoding": {"text": {"field": "s"}}},
 {"data": {"values": [{"t": -1.821, "y": 2.368, "s": "(a)"}]}, "mark": {"type": "text", "align": "left", "baseline": "middle", "font": "Liberation Serif", "fontSize": 16, "color": "#222"}, "encoding": {"text": {"field": "s"}}},
 {"data": {"values": [{"t": 0.706, "y": -0.386, "s": "Torque ripple=0.1Nm"}]}, "mark": {"type": "text", "align": "left", "baseline": "middle", "font": "Liberation Serif", "fontSize": 25, "color": "#222"}, "encoding": {"text": {"field": "s"}}},
 {"data": {"values": [{"t": 1.166, "y": -2.053, "s": "X-scale: 0.5 s/div"}, {"t": 1.135, "y": -2.404, "s": "Y-scale: 0.4 Nm/div"}]}, "mark": {"type": "text", "align": "left", "baseline": "middle", "font": "Liberation Serif", "fontSize": 18, "color": "#222"}, "encoding": {"text": {"field": "s"}}}
]
},
{
"width": 658, "height": 501,
"encoding": {
 "x": {"field": "t", "type": "quantitative", "scale": {"domain": [-2.68, 2.454], "nice": false, "zero": false}, "axis": null},
 "y": {"field": "y", "type": "quantitative", "scale": {"domain": [-4.017, 4.696], "nice": false, "zero": false}, "axis": null}
},
"layer": [
 {"data": {"name": "grid"}, "mark": {"type": "rule", "color": "#505050", "strokeWidth": 1.3, "strokeDash": [1.4, 4.4]}, "encoding": {"x2": {"field": "t2"}, "y2": {"field": "y2"}}},
 {"data": {"name": "frame"}, "mark": {"type": "rule", "color": "#1a1a1a", "strokeWidth": 2}, "encoding": {"x2": {"field": "t2"}, "y2": {"field": "y2"}}},
 {"data": {"name": "mx"}, "mark": {"type": "tick", "orient": "vertical", "size": 6, "thickness": 1.2, "color": "#333", "opacity": 1}},
 {"data": {"name": "mxd"}, "mark": {"type": "tick", "orient": "vertical", "size": 12, "thickness": 1.3, "color": "#333", "opacity": 1}},
 {"data": {"name": "my"}, "mark": {"type": "tick", "orient": "horizontal", "size": 8, "thickness": 1.3, "color": "#333", "opacity": 1}},
 {"data": {"values": [{"t": 0, "y": 3.913}]}, "mark": {"type": "point", "shape": "triangle-down", "size": 60, "filled": true, "color": "#111", "opacity": 1}},
 {"data": {"values": [{"t": 0, "y": -3.913}]}, "mark": {"type": "point", "shape": "triangle-up", "size": 60, "filled": true, "color": "#111", "opacity": 1}},
 {"data": {"name": "traceB"}, "mark": {"type": "line", "color": "#111", "strokeWidth": 1.5}, "encoding": {}},
 {"data": {"values": [{"t": -0.679, "t2": 0.846, "y": 1.391, "y2": 0.73}]}, "mark": {"type": "rect", "fill": "#f5e35e", "fillOpacity": 0.5, "stroke": "#b48ab9", "strokeWidth": 1.3}, "encoding": {"x2": {"field": "t2"}, "y2": {"field": "y2"}}},
 {"data": {"values": [{"t": -2.313, "t2": 0.854, "y": -0.296, "y2": -3.2}]}, "mark": {"type": "rect", "color": "white"}, "encoding": {"x2": {"field": "t2"}, "y2": {"field": "y2"}}},
 {"data": {"values": [{"t": 0.87, "t2": 2.46, "y": -0.47, "y2": -1.043}]}, "mark": {"type": "rect", "color": "white"}, "encoding": {"x2": {"field": "t2"}, "y2": {"field": "y2"}}},
 {"data": {"values": [{"t": -2.313, "t2": 0.854, "y": -0.296, "y2": -0.296}, {"t": -2.313, "t2": -2.313, "y": -0.296, "y2": -3.2}, {"t": -2.313, "t2": 0.854, "y": -3.2, "y2": -3.2}, {"t": 0.854, "t2": 0.854, "y": -0.296, "y2": -0.45}, {"t": 0.854, "t2": 0.854, "y": -1.078, "y2": -3.2}]}, "mark": {"type": "rule", "color": "#111", "strokeWidth": 2.6}, "encoding": {"x2": {"field": "t2"}, "y2": {"field": "y2"}}},
 {"data": {"values": [{"t": -2.29, "t2": 0.729, "y": -1.62, "y2": -1.86}, {"t": -1.057, "t2": -0.971, "y": -1.113, "y2": -1.183}, {"t": -1.057, "t2": -0.963, "y": -2.8, "y2": -2.939}]}, "mark": {"type": "rect", "color": "#111"}, "encoding": {"x2": {"field": "t2"}, "y2": {"field": "y2"}}},
 {"data": {"name": "insetBv"}, "mark": {"type": "rule", "color": "#111", "strokeWidth": 4}, "encoding": {"y2": {"field": "y2"}}},
 {"data": {"values": [{"t": -0.191, "t2": -0.55, "y": 0.73, "y2": -0.63}]}, "mark": {"type": "rule", "color": "#7b3fc4", "strokeWidth": 2}, "encoding": {"x2": {"field": "t2"}, "y2": {"field": "y2"}}},
 {"data": {"values": [{"t": -0.581, "y": -0.678}]}, "mark": {"type": "point", "shape": "M0,0L-0.8,2L0.8,2Z", "size": 324, "angle": 212, "filled": true, "color": "#7b3fc4", "opacity": 1}},
 {"data": {"values": [{"t": 0.503, "t2": 0.503, "y": -0.47, "y2": -1.4}, {"t": 0.269, "t2": 0.87, "y": -1.478, "y2": -1.478}, {"t": 0.269, "t2": 0.87, "y": -2.087, "y2": -2.087}, {"t": 0.503, "t2": 0.503, "y": -2.2, "y2": -2.991}]}, "mark": {"type": "rule", "color": "#f07d1a", "strokeWidth": 2}, "encoding": {"x2": {"field": "t2"}, "y2": {"field": "y2"}}},
 {"data": {"values": [{"t": 0.503, "y": -1.478}]}, "mark": {"type": "point", "shape": "M0,0L-1,-1.9L1,-1.9Z", "size": 289, "filled": true, "color": "#f07d1a", "opacity": 1}},
 {"data": {"values": [{"t": 0.503, "y": -2.1}]}, "mark": {"type": "point", "shape": "M0,0L-1,1.9L1,1.9Z", "size": 289, "filled": true, "color": "#f07d1a", "opacity": 1}},
 {"data": {"values": [{"t": -1.931, "t2": -1.166, "y": 4.365, "y2": 4.087}]}, "mark": {"type": "rect", "color": "#111"}, "encoding": {"x2": {"field": "t2"}, "y2": {"field": "y2"}}},
 {"data": {"values": [{"t": -1.915, "y": 4.226, "s": "A1"}]}, "mark": {"type": "text", "align": "left", "baseline": "middle", "font": "DejaVu Sans Mono", "fontWeight": "bold", "fontSize": 15, "color": "white"}, "encoding": {"text": {"field": "s"}}},
 {"data": {"values": [{"t": -1.728, "y": 4.226, "s": "5.00V/"}]}, "mark": {"type": "text", "align": "left", "baseline": "middle", "font": "DejaVu Sans Mono", "fontSize": 18, "color": "white"}, "encoding": {"text": {"field": "s"}}},
 {"data": {"values": [{"t": -0.831, "y": 4.226, "s": "5.00V/"}, {"t": -0.045, "y": 4.226, "s": "Γ"}, {"t": 0.168, "y": 4.226, "s": "0.00s"}, {"t": 0.698, "y": 4.226, "s": "500"}, {"t": 1.002, "y": 4.226, "s": "/"}, {"t": 1.782, "y": 4.226, "s": "↥"}]}, "mark": {"type": "text", "align": "left", "baseline": "middle", "font": "DejaVu Sans Mono", "fontSize": 18, "color": "#111"}, "encoding": {"text": {"field": "s"}}},
 {"data": {"values": [{"t": -1.018, "y": 4.226, "s": "A2"}, {"t": 1.868, "y": 4.226, "s": "A2"}]}, "mark": {"type": "text", "align": "left", "baseline": "middle", "font": "DejaVu Sans Mono", "fontWeight": "bold", "fontSize": 15, "color": "#111"}, "encoding": {"text": {"field": "s"}}},
 {"data": {"values": [{"t": 2.094, "y": 4.226, "s": "STOP"}]}, "mark": {"type": "text", "align": "left", "baseline": "middle", "font": "DejaVu Sans Mono", "fontWeight": "bold", "fontSize": 17, "color": "#111"}, "encoding": {"text": {"field": "s"}}},
 {"data": {"values": [{"t": 0.955, "y": 4.313, "s": "m"}, {"t": 0.955, "y": 4.122, "s": "s"}]}, "mark": {"type": "text", "align": "left", "baseline": "middle", "font": "DejaVu Sans Mono", "fontSize": 10, "color": "#111"}, "encoding": {"text": {"field": "s"}}},
 {"data": {"values": [{"t": -2.586, "y": 0.35, "s": "A2"}]}, "mark": {"type": "text", "align": "center", "baseline": "middle", "font": "DejaVu Sans Mono", "fontWeight": "bold", "fontSize": 10, "color": "#111"}, "encoding": {"text": {"field": "s"}}},
 {"data": {"values": [{"t": -2.64, "y": 0.0, "s": "→"}]}, "mark": {"type": "text", "align": "left", "baseline": "middle", "font": "DejaVu Sans", "fontSize": 14, "color": "#111"}, "encoding": {"text": {"field": "s"}}},
 {"data": {"values": [{"t": -1.923, "y": 3.339, "s": "Framing error"}]}, "mark": {"type": "text", "align": "left", "baseline": "middle", "font": "DejaVu Sans Mono", "fontSize": 16, "color": "#222"}, "encoding": {"text": {"field": "s"}}},
 {"data": {"values": [{"t": 1.283, "y": 2.452, "s": "(b)"}]}, "mark": {"type": "text", "align": "left", "baseline": "middle", "font": "Liberation Serif", "fontSize": 20, "color": "#222"}, "encoding": {"text": {"field": "s"}}},
 {"data": {"values": [{"t": 0.597, "y": -0.765, "s": "Torque ripple=0.05Nm"}]}, "mark": {"type": "text", "align": "left", "baseline": "middle", "font": "Liberation Serif", "fontSize": 25, "color": "#222"}, "encoding": {"text": {"field": "s"}}},
 {"data": {"values": [{"t": 1.166, "y": -2.157, "s": "X-scale: 0.5 s/div"}, {"t": 1.158, "y": -2.539, "s": "Y-scale: 0.4 Nm/div"}]}, "mark": {"type": "text", "align": "left", "baseline": "middle", "font": "Liberation Serif", "fontSize": 18, "color": "#222"}, "encoding": {"text": {"field": "s"}}}
]
}
]
}
